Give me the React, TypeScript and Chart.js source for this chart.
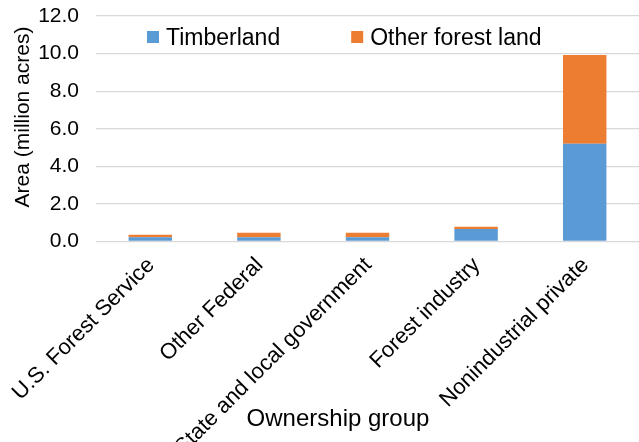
import React, { useEffect, useRef } from "react";
import { Chart, registerables } from "chart.js";

Chart.register(...registerables);

// Forest area by ownership group (million acres)
const categories = [
  "U.S. Forest Service",
  "Other Federal",
  "State and local government",
  "Forest industry",
  "Nonindustrial private",
];
const timberland = [0.23, 0.23, 0.23, 0.66, 5.2];
const otherForestLand = [0.13, 0.23, 0.23, 0.12, 4.73];
const yTickValues = [0, 2, 4, 6, 8, 10, 12];

const seriesNames = ["Timberland", "Other forest land"];
const seriesColors = ["#5B9BD5", "#ED7D31"];

const xTitle = "Ownership group";
const yTitle = "Area (million acres)";

const FONT = "'Liberation Sans', Arial, sans-serif";

// Draws rotated category labels, axis titles and the in-plot legend.
const annotations = {
  id: "annotations",
  afterDraw(chart: any) {
    const { ctx, scales } = chart;
    const x = scales.x;
    ctx.save();
    ctx.fillStyle = "#000";

    // category labels, rotated 45 degrees, ending just under each bar
    ctx.font = `22px ${FONT}`;
    ctx.textAlign = "right";
    ctx.textBaseline = "alphabetic";
    categories.forEach((label, i) => {
      const px = x.getPixelForValue(i);
      ctx.save();
      ctx.translate(px + 5, 266);
      ctx.rotate(-Math.PI / 4);
      ctx.fillText(label, 0, 0);
      ctx.restore();
    });

    // x-axis title
    ctx.font = `24px ${FONT}`;
    ctx.textAlign = "center";
    ctx.fillText(xTitle, 338, 426);

    // y-axis title
    ctx.save();
    ctx.font = `21px ${FONT}`;
    ctx.translate(29, 117);
    ctx.rotate(-Math.PI / 2);
    ctx.textAlign = "center";
    ctx.fillText(yTitle, 0, 0);
    ctx.restore();

    // legend
    ctx.font = `23px ${FONT}`;
    ctx.textAlign = "left";
    let lx = 147;
    chart.data.datasets.forEach((ds: any) => {
      ctx.fillStyle = ds.backgroundColor;
      ctx.fillRect(lx, 31, 12, 12);
      ctx.fillStyle = "#000";
      ctx.fillText(ds.label, lx + 19, 44.5);
      lx += 19 + ctx.measureText(ds.label).width + 71;
    });

    ctx.restore();
  },
};

export default function App() {
  const canvasRef = useRef<HTMLCanvasElement | null>(null);

  useEffect(() => {
    const canvas = canvasRef.current;
    if (!canvas) return;
    const chart = new Chart(canvas, {
      type: "bar",
      data: {
        labels: categories,
        datasets: [
          {
            label: seriesNames[0],
            data: timberland,
            backgroundColor: seriesColors[0],
            barPercentage: 0.4,
            categoryPercentage: 1,
          },
          {
            label: seriesNames[1],
            data: otherForestLand,
            backgroundColor: seriesColors[1],
            barPercentage: 0.4,
            categoryPercentage: 1,
          },
        ],
      },
      plugins: [annotations],
      options: {
        responsive: false,
        animation: false,
        devicePixelRatio: 1,
        layout: { padding: { top: 16, right: 0, bottom: 0, left: 0 } },
        plugins: {
          legend: { display: false },
          tooltip: { enabled: false },
        },
        scales: {
          x: {
            stacked: true,
            grid: { display: false },
            border: { display: false },
            ticks: { display: false },
            afterFit: (s: any) => {
              s.height = 442 - 241.5;
              s.paddingLeft = 0;
              s.paddingRight = 0;
            },
          },
          y: {
            stacked: true,
            min: 0,
            max: 12,
            afterBuildTicks: (s: any) => {
              s.ticks = yTickValues.map((v) => ({ value: v }));
            },
            ticks: {
              callback: (v: any) => Number(v).toFixed(1),
              font: { size: 21, family: FONT },
              color: "#000",
              padding: 17,
            },
            grid: { color: "#d9d9d9", lineWidth: 1.3, drawTicks: false },
            border: { display: false },
            afterFit: (s: any) => {
              s.width = 96;
              s.paddingTop = 0;
              s.paddingBottom = 0;
            },
          },
        },
      },
    });
    return () => chart.destroy();
  }, []);

  return (
    <div style={{ position: "fixed", left: 0, top: 0, width: 639, height: 442, background: "#fff" }}>
      <canvas ref={canvasRef} width={639} height={442} />
    </div>
  );
}
